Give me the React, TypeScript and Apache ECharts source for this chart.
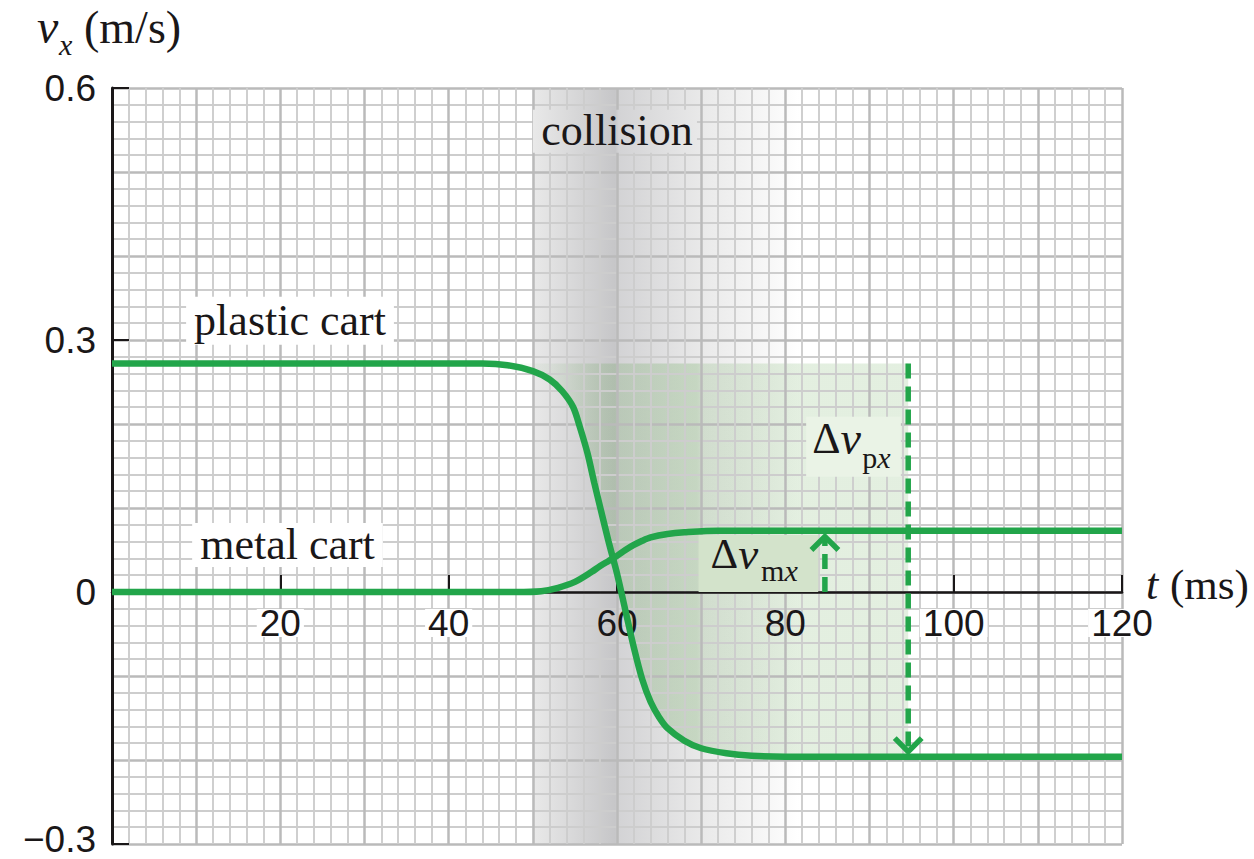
import React, { useEffect, useRef } from 'react';
import * as echarts from 'echarts';

// ---------- data ----------
const timeMs = [0, 44, 47, 50, 52, 53.5, 54.8, 55.6, 56.5, 57.3, 58, 59, 60, 61, 62, 63, 64, 65, 66, 68, 70, 73, 76, 80, 120];
const plasticVx = [0.272, 0.272, 0.270, 0.263, 0.253, 0.239, 0.220, 0.196, 0.165, 0.130, 0.101, 0.060, 0.022, -0.022, -0.066, -0.104, -0.131, -0.149, -0.162, -0.177, -0.186, -0.192, -0.195, -0.196, -0.196];

const metalTimeMs = [0, 48, 51, 53, 55, 57, 58, 59, 60, 61, 62, 63, 64, 66, 68, 72, 120];
const metalVx = [0, 0, 0.001, 0.005, 0.012, 0.024, 0.031, 0.037, 0.043, 0.050, 0.056, 0.061, 0.065, 0.069, 0.071, 0.073, 0.073];

const xRange = [0, 120];
const yRange = [-0.3, 0.6];
const xTickLabels = [20, 40, 60, 80, 100, 120];
const xTickLabelsOnShade = [60, 80];

// collision band (ms): start, darkest, end
const collisionMs = [50, 60, 82];

// Δv arrows
const plasticArrowT = 94.6;
const plasticArrowV = [0.272, -0.19];
const metalArrowT = 84.7;
const metalArrowV = [0, 0.066];
const arrowHalfMs = 1.6;
const arrowHeadV = 0.016;

// shaded Δv_px region ends at
const fillEndMs = 94.6;
const fillLastCurveMs = 80;

// text anchors [t, v]
const collisionLabel = [60, 0.549];
const collisionBox = [50, 69.5, 0.523, 0.574];
const plasticLabel = [21.15, 0.323];
const metalLabel = [20.85, 0.056];
const dvpLabel = [88.1, 0.173];
const dvmLabel = [76.8, 0.034];

const SERIF = "'Liberation Serif', 'Times New Roman', serif";
const SANS = "'Liberation Sans', Arial, Helvetica, sans-serif";
const INK = '#1a1718';
const GREEN = '#22a54a';

export default function App() {
  const ref = useRef<HTMLDivElement>(null);

  useEffect(() => {
    const chart = echarts.init(ref.current!, null, { renderer: 'svg' });

    const fillIdx = timeMs.map((_, i) => i).filter((i) => timeMs[i] <= fillLastCurveMs);
    const fillT = [...fillIdx.map((i) => timeMs[i]), fillEndMs];
    const fillV = [...fillIdx.map((i) => plasticVx[i]), plasticVx[plasticVx.length - 1]];

    const bandGradient = (api: any) => {
      const t0 = collisionMs[0] - 0.1;
      const t1 = collisionMs[2];
      const x0 = api.coord([t0, 0])[0];
      const x1 = api.coord([t1, 0])[0];
      const off = (t: number) => (t - t0) / (t1 - t0);
      const pk = collisionMs[1];
      return new echarts.graphic.LinearGradient(x0, 0, x1, 0, [
        { offset: 0, color: 'rgba(233,233,233,0)' },
        { offset: off(collisionMs[0]), color: '#e9e9e9' },
        { offset: off(pk - 0.2), color: '#c6c6c8' },
        { offset: off(pk + 0.2), color: '#d3d3d5' },
        { offset: off(70), color: '#e9e9e9' },
        { offset: off(80), color: '#fbfbfb' },
        { offset: 1, color: 'rgba(255,255,255,0)' },
      ], true);
    };

    const fillOff = (t: number) => t / fillEndMs;
    const fillGradient = new echarts.graphic.LinearGradient(0, 0, 1, 0, [
      { offset: fillOff(44), color: 'rgba(70,150,50,0)' },
      { offset: fillOff(52), color: 'rgba(70,150,50,0.06)' },
      { offset: fillOff(58), color: 'rgba(70,150,50,0.17)' },
      { offset: fillOff(69.5), color: 'rgba(70,150,50,0.21)' },
      { offset: fillOff(70.3), color: 'rgba(70,150,50,0.15)' },
      { offset: 1, color: 'rgba(70,150,50,0.15)' },
    ]);

    const axisLabelFont = { fontFamily: SANS, fontSize: 37, color: INK };

    const serifLabel = (extra: any) => ({
      show: true,
      position: 'inside',
      fontFamily: SERIF,
      fontSize: 44,
      color: INK,
      opacity: 1,
      textBorderWidth: 0,
      ...extra,
    });

    const dvMainRich = (size: number) => ({
      d: { fontFamily: SERIF, fontSize: size, color: INK },
      v: { fontFamily: SERIF, fontSize: size + 2, fontStyle: 'italic', color: INK },
    });
    const dvSubRich = (size: number) => ({
      r: { fontFamily: SERIF, fontSize: size, color: INK },
      i: { fontFamily: SERIF, fontSize: size, fontStyle: 'italic', color: INK },
    });

    const dashed = { color: GREEN, width: 5.5, type: [15, 8] as any, cap: 'butt' };
    const anchorItem = { color: INK, opacity: 1 };

    const option: any = {
      animation: false,
      backgroundColor: '#ffffff',
      grid: { left: 112, right: 132, top: 88, bottom: 15, containLabel: false, outerBoundsMode: 'none' },
      xAxis: [
        {
          type: 'value', position: 'top', min: xRange[0], max: xRange[1], interval: 10, z: 3,
          axisLine: { show: false }, axisTick: { show: false }, axisLabel: { show: false },
          splitLine: { show: true, lineStyle: { color: '#bababa', width: 2.5 } },
          minorTick: { show: true, splitNumber: 5, length: 0, lineStyle: { color: 'rgba(0,0,0,0)' } },
          minorSplitLine: { show: true, lineStyle: { color: '#cdcdcd', width: 1.9 } },
        },
        {
          type: 'value', position: 'bottom', min: xRange[0], max: xRange[1], interval: 20, z: 4,
          axisLine: { show: true, onZero: true, onZeroAxisIndex: 1, lineStyle: { color: INK, width: 2.5 } },
          axisTick: { show: true, inside: true, length: 17, lineStyle: { color: INK, width: 2 } },
          splitLine: { show: false },
          axisLabel: { show: false },
        },
      ],
      yAxis: [
        {
          type: 'value', position: 'right', min: yRange[0], max: yRange[1], interval: 0.1, z: 3,
          axisLine: { show: false }, axisTick: { show: false }, axisLabel: { show: false },
          splitLine: { show: true, lineStyle: { color: '#bababa', width: 2.5 } },
          minorTick: { show: true, splitNumber: 5, length: 0, lineStyle: { color: 'rgba(0,0,0,0)' } },
          minorSplitLine: { show: true, lineStyle: { color: '#cdcdcd', width: 1.9 } },
        },
        {
          type: 'value', position: 'left', min: yRange[0], max: yRange[1], interval: 0.3, z: 4,
          axisLine: { show: true, onZero: false, lineStyle: { color: INK, width: 3 } },
          axisTick: { show: true, inside: true, length: 17, lineStyle: { color: INK, width: 2 } },
          splitLine: { show: false },
          axisLabel: {
            margin: 16, ...axisLabelFont,
            formatter: (v: number) => (Math.abs(v) < 1e-9 ? '0' : v < 0 ? '{b|\u2212' + Math.abs(v).toFixed(1) + '}' : v.toFixed(1)),
            rich: { b: { ...axisLabelFont, padding: [0, 0, 9, 0] } },
          },
        },
      ],
      graphic: [
        { type: 'text', x: 37, y: 26, z: 10, style: { text: 'v', fontStyle: 'italic', fontSize: 48, fontFamily: SERIF, fill: INK, verticalAlign: 'middle' } },
        { type: 'text', x: 59, y: 44, z: 10, style: { text: 'x', fontStyle: 'italic', fontSize: 30, fontFamily: SERIF, fill: INK, verticalAlign: 'middle' } },
        { type: 'text', x: 84, y: 27, z: 10, style: { text: '(m/s)', fontSize: 46, fontFamily: SERIF, fill: INK, verticalAlign: 'middle' } },
        { type: 'text', x: 1146, y: 584, z: 10, style: { text: 't', fontStyle: 'italic', fontSize: 44, fontFamily: SERIF, fill: INK, verticalAlign: 'middle' } },
        { type: 'text', x: 1170, y: 584, z: 10, style: { text: '(ms)', fontSize: 43, fontFamily: SERIF, fill: INK, verticalAlign: 'middle' } },
      ],
      series: [
        {
          type: 'custom', name: 'collision band', xAxisIndex: 1, yAxisIndex: 1, z: 1, silent: true,
          data: [[collisionMs[0], collisionMs[2]]],
          renderItem: (_p: any, api: any) => {
            const a = api.coord([api.value(0) - 0.1, yRange[1]]);
            const b = api.coord([api.value(1), yRange[0]]);
            return { type: 'rect', shape: { x: a[0], y: a[1], width: b[0] - a[0], height: b[1] - a[1] }, style: { fill: bandGradient(api) } };
          },
        },
        {
          type: 'line', name: 'dv fill', xAxisIndex: 1, yAxisIndex: 1, z: 2,
          smooth: 0.3, symbol: 'none', silent: true, lineStyle: { width: 0, opacity: 0 },
          areaStyle: { color: fillGradient, opacity: 1, origin: plasticVx[0] },
          data: fillT.map((t, i) => [t, fillV[i]]),
        },
        {
          type: 'custom', name: 'collision box', xAxisIndex: 1, yAxisIndex: 1, z: 4, silent: true,
          data: [collisionBox],
          renderItem: (_p: any, api: any) => {
            const a = api.coord([api.value(0), api.value(3)]);
            const b = api.coord([api.value(1), api.value(2)]);
            return { type: 'rect', shape: { x: a[0], y: a[1], width: b[0] - a[0], height: b[1] - a[1] }, style: { fill: bandGradient(api) } };
          },
        },
        {
          type: 'scatter', name: 'tick labels', xAxisIndex: 1, yAxisIndex: 1, z: 4, silent: true,
          symbolSize: 0.1, itemStyle: anchorItem,
          data: xTickLabels.map((t) => ({
            value: [t, 0],
            label: {
              show: true, position: 'inside', offset: [0, 31], formatter: String(t), ...axisLabelFont,
              lineHeight: 28, opacity: 1, textBorderWidth: 0,
              backgroundColor: xTickLabelsOnShade.includes(t) ? 'rgba(0,0,0,0)' : '#ffffff', padding: [0, 3],
            },
          })),
        },
        {
          type: 'scatter', name: 'labels', xAxisIndex: 1, yAxisIndex: 1, z: 5, silent: true,
          symbolSize: 0.1, itemStyle: anchorItem,
          data: [
            { value: collisionLabel, label: serifLabel({ formatter: 'collision' }) },
            { value: plasticLabel, label: serifLabel({ formatter: 'plastic cart', lineHeight: 44, backgroundColor: '#ffffff', padding: [0, 8, 4, 8] }) },
            { value: metalLabel, label: serifLabel({ formatter: 'metal cart', lineHeight: 44, backgroundColor: '#ffffff', padding: [0, 8, 0, 8] }) },
            { value: dvpLabel, label: serifLabel({ formatter: '{d|\u0394}{v|v}', lineHeight: 44, backgroundColor: '#eaf3e6', padding: [0, 40, 16, 6], rich: dvMainRich(44) }) },
            { value: dvmLabel, label: serifLabel({ formatter: '{d|\u0394}{v|v}', lineHeight: 38, backgroundColor: '#d3e3cb', padding: [0, 60, 19, 12], rich: dvMainRich(43) }) },
          ],
        },
        {
          type: 'scatter', name: 'subscripts', xAxisIndex: 1, yAxisIndex: 1, z: 5.5, silent: true,
          symbolSize: 0.1, itemStyle: anchorItem,
          data: [
            { value: dvpLabel, label: serifLabel({ formatter: '{r|p}{i|x}', offset: [23, 11], rich: dvSubRich(30) }) },
            { value: dvmLabel, label: serifLabel({ formatter: '{r|m}{i|x}', offset: [21, 7], rich: dvSubRich(30) }) },
          ],
        },
        {
          type: 'line', name: 'plastic cart', xAxisIndex: 1, yAxisIndex: 1, z: 6, smooth: 0.3, symbol: 'none',
          lineStyle: { color: GREEN, width: 6.5 },
          data: timeMs.map((t, i) => [t, plasticVx[i]]),
        },
        {
          type: 'line', name: 'metal cart', xAxisIndex: 1, yAxisIndex: 1, z: 6, smooth: 0.3, symbol: 'none',
          lineStyle: { color: GREEN, width: 6.5 },
          data: metalTimeMs.map((t, i) => [t, metalVx[i]]),
        },
        {
          type: 'line', name: 'dv plastic', xAxisIndex: 1, yAxisIndex: 1, z: 6, symbol: 'none', lineStyle: dashed,
          data: plasticArrowV.map((v) => [plasticArrowT, v]),
        },
        {
          type: 'line', name: 'dv plastic head', xAxisIndex: 1, yAxisIndex: 1, z: 6, symbol: 'none',
          lineStyle: { color: GREEN, width: 5.5, join: 'miter' },
          data: [
            [plasticArrowT - arrowHalfMs, plasticArrowV[1] + arrowHeadV],
            [plasticArrowT, plasticArrowV[1]],
            [plasticArrowT + arrowHalfMs, plasticArrowV[1] + arrowHeadV],
          ],
        },
        {
          type: 'line', name: 'dv metal', xAxisIndex: 1, yAxisIndex: 1, z: 6, symbol: 'none', lineStyle: dashed,
          data: metalArrowV.map((v) => [metalArrowT, v]),
        },
        {
          type: 'line', name: 'dv metal head', xAxisIndex: 1, yAxisIndex: 1, z: 6, symbol: 'none',
          lineStyle: { color: GREEN, width: 5.5, join: 'miter' },
          data: [
            [metalArrowT - arrowHalfMs, metalArrowV[1] - arrowHeadV],
            [metalArrowT, metalArrowV[1]],
            [metalArrowT + arrowHalfMs, metalArrowV[1] - arrowHeadV],
          ],
        },
      ],
    };

    chart.setOption(option);
    return () => chart.dispose();
  }, []);

  return (
    <div
      ref={ref}
      style={{ position: 'fixed', left: 0, top: 0, width: 1254, height: 859, background: '#ffffff' }}
    />
  );
}
